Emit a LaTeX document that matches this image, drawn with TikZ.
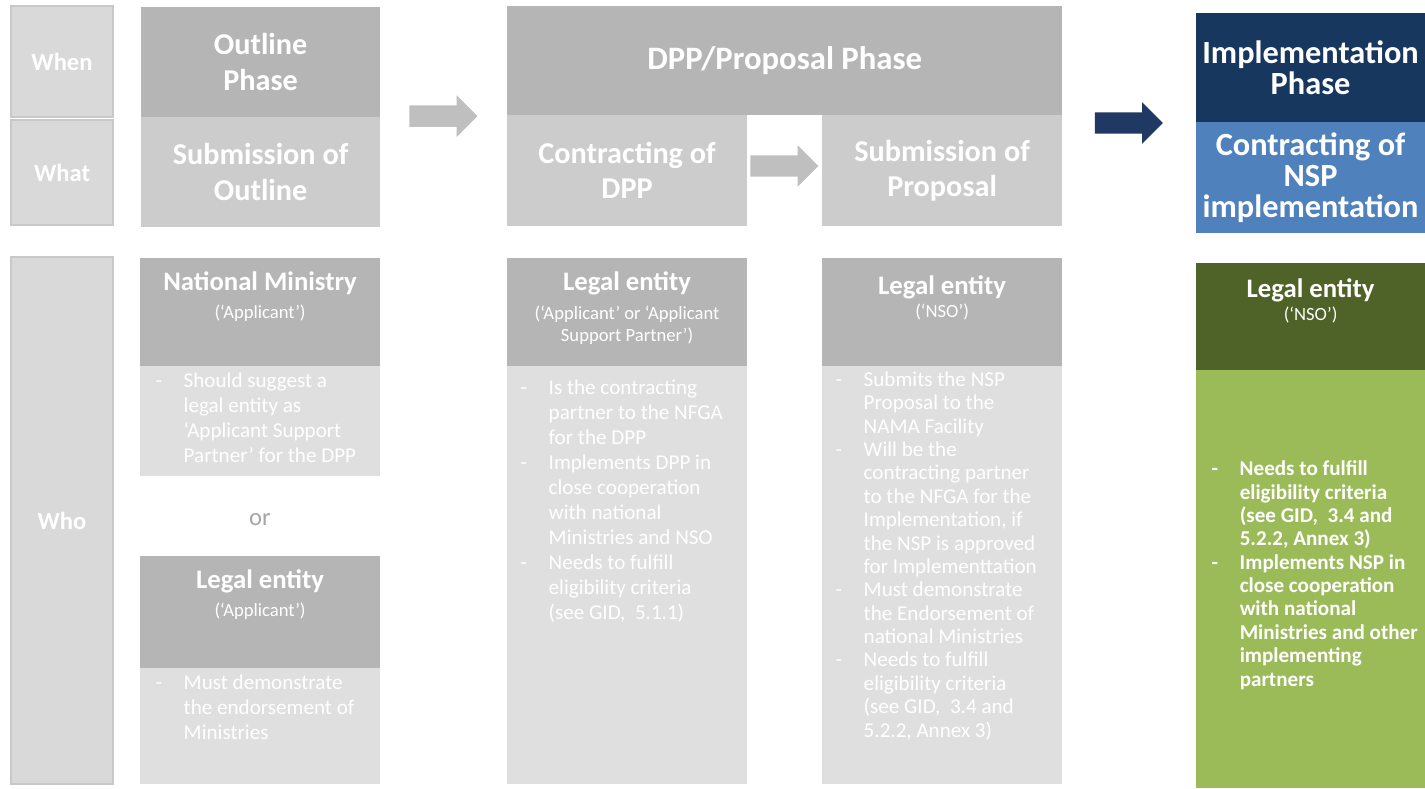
\documentclass[tikz,border=0pt]{standalone}
\usepackage{fontspec}
\setmainfont{Carlito}
\usetikzlibrary{
    positioning,
    calc,
    shapes.arrows
}
\definecolor{cellgray}{HTML}{D9D9D9}
\definecolor{headgray}{HTML}{B5B5B5}
\definecolor{midgray}{HTML}{CCCCCC}
\definecolor{bodygray}{HTML}{DFDFDF}
\definecolor{arrowgray}{HTML}{BFBFBF}
\definecolor{navy}{HTML}{1F3864}
\definecolor{implblue}{HTML}{17375E}
\definecolor{contrblue}{HTML}{4F81BD}
\definecolor{olive}{HTML}{4F6228}
\definecolor{leaf}{HTML}{9BBB59}
\definecolor{orgray}{HTML}{A6A6A6}
\newcommand{\bul}{\makebox[0.28cm][l]{-}}
\newcommand{\bulind}{\hspace*{0.28cm}}
\newcommand{\phasefont}{\fontsize{8.6}{10}\selectfont\bfseries}
\newcommand{\rowfont}{\fontsize{7}{8}\selectfont\bfseries}
\newcommand{\whofont}{\fontsize{7.6}{9}\selectfont\bfseries}
\newcommand{\rolefont}{\fontsize{5.3}{6.4}\selectfont}
\newcommand{\bodyfont}{\fontsize{6}{7.1}\selectfont}
\newcommand{\tightfont}{\fontsize{6}{6.65}\selectfont}

\begin{document}
\begin{tikzpicture}[x=0.01cm, y=-0.01cm,
    cell/.style={rectangle, inner sep=0pt, outer sep=0pt, anchor=north west, text=white, align=center},
    rowcell/.style={cell, fill=cellgray, draw=cellgray!92!black, line width=0.5pt, font=\rowfont},
    phasecell/.style={cell, fill=headgray, font=\phasefont},
    stepcell/.style={cell, fill=midgray, font=\phasefont},
    whohead/.style={cell, fill=headgray},
    whobody/.style={cell, fill=bodygray},
    headtext/.style={inner sep=0pt, text=white, align=center, font=\rolefont},
    bodytext/.style={inner sep=0pt, text=white, align=left, anchor=north west, font=\bodyfont},
    blockarrow/.style={single arrow, inner sep=0.1cm, minimum width=0.4cm, minimum height=0.68cm,
        single arrow head extend=0.1cm, single arrow head indent=0pt, xshift=-0.055cm}
]
    \useasboundingbox[fill=white] (0,0) rectangle (1425,788);

    \node[rowcell, minimum width=1.02cm, minimum height=1.11cm] (when) at (11,6) {When};
    \node[rowcell, minimum width=1.02cm, minimum height=1.05cm] (what) at (11,120) {What};
    \node[rowcell, minimum width=1.02cm, minimum height=5.27cm] (who) at (11,257) {Who};

    \node[phasecell, minimum width=2.39cm, minimum height=1.10cm] (outph) at (141,7) {Outline\\Phase};
    \node[stepcell, minimum width=2.39cm, minimum height=1.10cm] (outsub) at (141,117) {Submission of\\Outline};

    \node[phasecell, minimum width=5.55cm, minimum height=1.09cm, font=\fontsize{9.3}{11}\selectfont\bfseries] (dppph) at (507,6) {DPP/Proposal Phase};
    \node[stepcell, minimum width=2.40cm, minimum height=1.11cm] (dppcon) at (507,115) {Contracting of\\DPP};
    \node[stepcell, minimum width=2.40cm, minimum height=1.11cm] (propsub) at (822,115) {Submission of\\Proposal};

    \node[cell, fill=implblue, minimum width=2.29cm, minimum height=1.09cm, font=\fontsize{9.2}{8.9}\selectfont\bfseries] (implph) at (1196,13) {Implementation\\Phase};
    \node[cell, fill=contrblue, minimum width=2.29cm, minimum height=1.11cm, font=\fontsize{9.2}{8.9}\selectfont\bfseries] (implcon) at (1196,122) {Contracting of\\NSP\\implementation};

    \node[blockarrow, fill=arrowgray] (arrout) at ($(outph.south east)!0.5!(dppph.south west)$) {};
    \node[blockarrow, fill=arrowgray, yshift=0.045cm] (arrdpp) at ($(dppcon.east)!0.5!(propsub.west)$) {};
    \node[blockarrow, fill=navy, yshift=-0.045cm] (arrimpl) at ($(propsub.north east)!0.5!(implph.south west)$) {};

    % who: outline phase
    \node[whohead, minimum width=2.40cm, minimum height=1.08cm] (nmhead) at (140,258) {};
    \node[whobody, minimum width=2.40cm, minimum height=1.10cm] (nmbody) at (140,366) {};
    \node[headtext, below=0.13cm of nmhead.north] (nmtext) {{\whofont National Ministry}\\[1.6pt](‘Applicant’)};
    \node[bodytext, below right=0.06cm and 0.15cm of nmbody.north west] (nmlist) {\bul Should suggest a\\ \bulind legal entity as\\ \bulind ‘Applicant Support\\ \bulind Partner’ for the DPP};
    \node[text=orgray, font=\fontsize{7}{8}\selectfont] (ortext) at (260,520) {or};
    \node[whohead, minimum width=2.40cm, minimum height=1.12cm] (lehead) at (140,556) {};
    \node[whobody, minimum width=2.40cm, minimum height=1.16cm] (lebody) at (140,668) {};
    \node[headtext, below=0.13cm of lehead.north] (letext) {{\whofont Legal entity}\\[1.6pt](‘Applicant’)};
    \node[bodytext, below right=0.06cm and 0.15cm of lebody.north west] (lelist) {\bul Must demonstrate\\ \bulind the endorsement of\\ \bulind Ministries};

    % who: dpp/proposal phase
    \node[whohead, minimum width=2.40cm, minimum height=1.08cm] (dpphead) at (507,258) {};
    \node[whobody, minimum width=2.40cm, minimum height=4.18cm] (dppbody) at (507,366) {};
    \node[headtext, below=0.13cm of dpphead.north] (dpptext) {{\whofont Legal entity}\\[1.8pt](‘Applicant’ or ‘Applicant\\Support Partner’)};
    \node[bodytext, below right=0.13cm and 0.13cm of dppbody.north west] (dpplist) {\bul Is the contracting\\ \bulind partner to the NFGA\\ \bulind for the DPP\\
        \bul Implements DPP in\\ \bulind close cooperation\\ \bulind with national\\ \bulind Ministries and NSO\\
        \bul Needs to fulfill\\ \bulind eligibility criteria\\ \bulind (see GID,~ 5.1.1)};

    \node[whohead, minimum width=2.40cm, minimum height=1.08cm] (nsohead) at (822,258) {};
    \node[whobody, minimum width=2.40cm, minimum height=4.18cm] (nsobody) at (822,366) {};
    \node[headtext, below=0.17cm of nsohead.north] (nsotext) {{\whofont Legal entity}\\[0pt](‘NSO’)};
    \node[bodytext, below right=0.05cm and 0.13cm of nsobody.north west, font=\tightfont] (nsolist) {\bul Submits the NSP\\ \bulind Proposal to the\\ \bulind NAMA Facility\\
        \bul Will be the\\ \bulind contracting partner\\ \bulind to the NFGA for the\\ \bulind Implementation, if\\ \bulind the NSP is approved\\ \bulind for Implementtation\\
        \bul Must demonstrate\\ \bulind the Endorsement of\\ \bulind national Ministries\\
        \bul Needs to fulfill\\ \bulind eligibility criteria\\ \bulind (see GID,~ 3.4 and\\ \bulind 5.2.2, Annex 3)};

    % who: implementation phase
    \node[cell, fill=olive, minimum width=2.29cm, minimum height=1.07cm] (implhead) at (1196,263) {};
    \node[cell, fill=leaf, minimum width=2.29cm, minimum height=4.18cm] (implbody) at (1196,370) {};
    \node[headtext, below=0.15cm of implhead.north] (impltext) {{\whofont Legal entity}\\[0pt](‘NSO’)};
    \node[bodytext, anchor=west, right=0.15cm of implbody.west, yshift=0.04cm, font=\tightfont\bfseries] (impllist) {\bul Needs to fulfill\\ \bulind eligibility criteria\\ \bulind (see GID,~ 3.4 and\\ \bulind 5.2.2, Annex 3)\\
        \bul Implements NSP in\\ \bulind close cooperation\\ \bulind with national\\ \bulind Ministries and other\\ \bulind implementing\\ \bulind partners};
\end{tikzpicture}
\end{document}
